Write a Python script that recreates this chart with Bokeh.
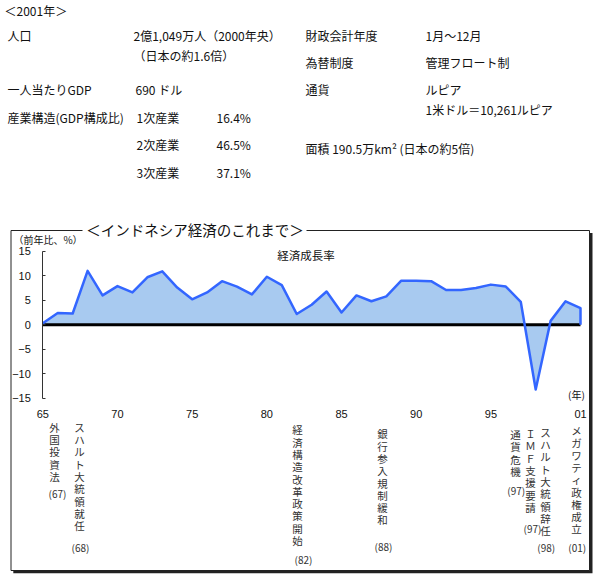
from bokeh.plotting import figure
from bokeh.models import Range1d, LinearAxis, FixedTicker, ColumnDataSource
from bokeh.core.properties import value
from bokeh.embed import file_html
from bokeh.resources import INLINE

# ---------------- data ----------------
years = list(range(1965, 2002))
growth = [0.3, 2.4, 2.3, 11.0, 6.0, 7.9, 6.6, 9.7, 10.9, 7.6,
          5.2, 6.6, 8.9, 7.8, 6.2, 9.8, 8.1, 2.2, 4.1, 6.8,
          2.5, 6.0, 4.8, 5.8, 9.0, 9.0, 8.9, 7.1, 7.1, 7.5,
          8.2, 7.8, 4.7, -13.2, 0.8, 4.8, 3.4]

y_ticks = [-15, -10, -5, 0, 5, 10, 15]
y_tick_labels = ["\u221215", "\u221210", "\u22125", "0", "5", "10", "15"]
x_ticks = [1965, 1970, 1975, 1980, 1985, 1990, 1995, 2001]
x_tick_labels = ["65", "70", "75", "80", "85", "90", "95", "01"]

events = ["外国投資法", "スハルト大統領就任", "経済構造改革政策開始", "銀行参入規制緩和",
          "通貨危機", "ＩＭＦ支援要請", "スハルト大統領辞任", "メガワティ政権成立"]
event_years = ["(67)", "(68)", "(82)", "(88)", "(97)", "(97)", "(98)", "(01)"]

info_left = [("＜2001年＞", 4, 10), ("人口", 7, 35), ("2億1,049万人（2000年央）", 133, 35),
             ("（日本の約1.6倍）", 133, 55), ("一人当たりGDP", 7, 89), ("690 ドル", 135, 89),
             ("産業構造(GDP構成比)", 7, 117), ("1次産業", 136, 117), ("16.4%", 216, 117),
             ("2次産業", 136, 144), ("46.5%", 216, 144), ("3次産業", 136, 171.5), ("37.1%", 216, 171.5),
             ("財政会計年度", 305, 35), ("1月～12月", 425, 35), ("為替制度", 305, 61.5),
             ("管理フロート制", 425, 61.5), ("通貨", 305, 89), ("ルピア", 425, 89),
             ("1米ドル＝10,261ルピア", 425, 109), ("面積 190.5万km² (日本の約5倍)", 305, 148)]

# ---------------- layout (page pixel space) ----------------
W, H = 597, 578
JP = value("Noto Sans CJK JP")

p = figure(width=W, height=H, output_backend="svg", toolbar_location=None,
           x_range=Range1d(0, W), y_range=Range1d(H, 0),
           x_axis_type=None, y_axis_type=None, min_border=0,
           outline_line_color=None)
p.background_fill_color = "white"
p.border_fill_color = "white"

# data scales placed inside the page
px_1965, px_2001 = 42.3, 580.0
kx = (px_2001 - px_1965) / (x_ticks[-1] - x_ticks[0])
yr_start = x_ticks[0] - px_1965 / kx
p.extra_x_ranges = {"yr": Range1d(yr_start, yr_start + W / kx)}
py_zero, ky = 324.3, 4.9
p.extra_y_ranges = {"pct": Range1d(-(H - py_zero) / ky, py_zero / ky)}

# info text
src_info = ColumnDataSource(dict(t=[a[0] for a in info_left], x=[a[1] for a in info_left],
                                 y=[a[2] for a in info_left]))
p.text(x="x", y="y", text="t", source=src_info, text_font=JP, text_font_size="12px",
       text_baseline="middle", text_align="left", text_color="#111111")

# box with shadow
p.quad(left=[12.8], right=[592.0], top=[232.5], bottom=[572.8], fill_color="#222222", line_color=None)
p.quad(left=[10.5], right=[589.0], top=[230.0], bottom=[570.0], fill_color="white",
       line_color="#222222", line_width=1)
p.quad(left=[82], right=[306], top=[221], bottom=[238], fill_color="white", line_color=None)
p.text(x=[194.5], y=[229], text=["＜インドネシア経済のこれまで＞"], text_font=JP,
       text_font_size="14.5px", text_baseline="middle", text_align="center", text_color="#111111")

# chart
p.varea(x=years, y1=[0] * len(years), y2=growth, fill_color="#A8CAF0",
        x_range_name="yr", y_range_name="pct")
p.line(x=[years[0], years[-1]], y=[0, 0], line_color="black", line_width=3,
       x_range_name="yr", y_range_name="pct")
p.line(x=years + [years[-1]], y=growth + [0], line_color="#3366FF", line_width=2.5,
       line_join="round", x_range_name="yr", y_range_name="pct")

yaxis = LinearAxis(x_range_name="yr", y_range_name="pct", fixed_location=x_ticks[0],
                   ticker=FixedTicker(ticks=y_ticks), bounds=(y_ticks[0], y_ticks[-1]))
yaxis.major_label_overrides = {t: s for t, s in zip(y_ticks, y_tick_labels)}
yaxis.major_tick_in = 3
yaxis.major_tick_out = 0
yaxis.minor_tick_line_color = None
yaxis.axis_line_color = "#333333"
yaxis.major_tick_line_color = "#333333"
yaxis.major_label_standoff = 12
yaxis.major_label_text_font = "Liberation Sans"
yaxis.major_label_text_font_size = "11px"
yaxis.major_label_text_color = "#111111"
p.add_layout(yaxis, "left")

xaxis = LinearAxis(x_range_name="yr", y_range_name="pct", fixed_location=y_ticks[0],
                   ticker=FixedTicker(ticks=x_ticks))
xaxis.major_label_overrides = {t: s for t, s in zip(x_ticks, x_tick_labels)}
xaxis.axis_line_color = None
xaxis.major_tick_line_color = None
xaxis.minor_tick_line_color = None
xaxis.major_label_standoff = 6
xaxis.major_label_text_font = "Liberation Sans"
xaxis.major_label_text_font_size = "11px"
xaxis.major_label_text_color = "#111111"
p.add_layout(xaxis, "below")

p.text(x=[47.5], y=[239], text=["（前年比、%）"], text_font=JP, text_font_size="10px",
       text_baseline="middle", text_align="center", text_color="#111111")
p.text(x=[305.5], y=[254], text=["経済成長率"], text_font=JP, text_font_size="11.5px",
       text_baseline="middle", text_align="center", text_color="#111111")
p.text(x=[576], y=[394], text=["(年)"], text_font=JP, text_font_size="10px",
       text_baseline="middle", text_align="center", text_color="#111111")

# vertical annotations
col_x = [54, 79, 297, 382, 515, 530, 545, 576]
col_top = [426.7, 426.7, 429.3, 433.3, 434, 433, 431.7, 430]
step = 12.3
cx, cy, ct = [], [], []
for ev, x, y in zip(events, col_x, col_top):
    for i, ch in enumerate(ev):
        cx.append(x)
        cy.append(y + i * step)
        ct.append(ch)
p.text(x="x", y="y", text="t", source=ColumnDataSource(dict(x=cx, y=cy, t=ct)),
       text_font=JP, text_font_size="10.5px", text_baseline="middle", text_align="center",
       text_color="#333333")
lab_x = [57, 80, 303, 383, 515.7, 532, 545.7, 576.7]
lab_y = [493.3, 547.3, 559, 545.7, 490, 527.7, 546.7, 546.7]
p.text(x=lab_x, y=lab_y, text=event_years, text_font=JP, text_font_size="10px",
       text_baseline="middle", text_align="center", text_color="#333333")

open("out.html", "w").write(file_html(p, INLINE))
